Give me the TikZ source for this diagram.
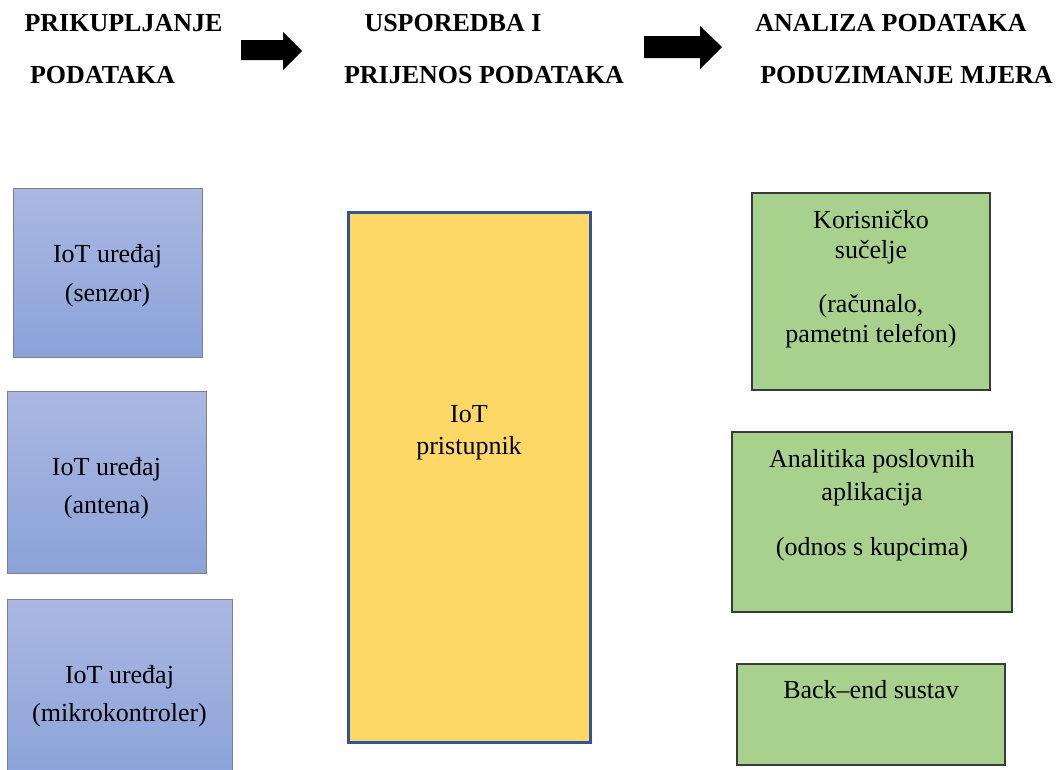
\documentclass[tikz,border=0pt]{standalone}
\usepackage{fontspec}
\setmainfont{Liberation Serif}
\definecolor{bluetop}{RGB}{170,184,226}
\definecolor{bluebot}{RGB}{139,162,217}
\definecolor{blueedge}{RGB}{128,128,128}
\definecolor{yellowfill}{RGB}{253,216,102}
\definecolor{yellowedge}{RGB}{47,85,151}
\definecolor{greenfill}{RGB}{169,209,142}
\definecolor{greenedge}{RGB}{58,58,58}
\tikzset{
  head/.style={font=\fontsize{26}{31}\bfseries\selectfont, anchor=base, inner sep=0pt},
  txt/.style={font=\fontsize{26}{31}\selectfont, anchor=base, inner sep=0pt},
  bluebox/.style={draw=blueedge, line width=0.8pt, top color=bluetop, bottom color=bluebot},
  yellowbox/.style={draw=yellowedge, line width=3pt, fill=yellowfill},
  greenbox/.style={draw=greenedge, line width=1.2pt, fill=greenfill},
  blockarrow/.style={fill=black}
}
\begin{document}
\begin{tikzpicture}[x=1pt,y=-1pt]
\useasboundingbox (0,0) rectangle (1059,769);
\begin{scope}
\clip (0,0) rectangle (1059,769);
% headers
\node[head] (h1a) at (123.5,31) {PRIKUPLJANJE};
\node[head] (h1b) at (102.5,83) {PODATAKA};
\node[head] (h2a) at (453,31) {USPOREDBA I};
\node[head] (h2b) at (484,83) {PRIJENOS PODATAKA};
\node[head] (h3a) at (891,31) {ANALIZA PODATAKA};
\node[head] (h3b) at (906.5,83) {PODUZIMANJE MJERA};
% block arrows
\fill[blockarrow] (241,40) -- (283,40) -- (283,32) -- (302,51) -- (283,70) -- (283,60) -- (241,60) -- cycle;
\fill[blockarrow] (644,36) -- (700,36) -- (700,26) -- (722,47) -- (700,69) -- (700,58) -- (644,58) -- cycle;
% blue boxes
\path[bluebox] (13,188) rectangle (202,357);
\coordinate (blue1) at (107.5,272);
\node[txt] (b1a) at (107.5,262) {IoT uređaj};
\node[txt] (b1b) at (107.5,301) {(senzor)};
\path[bluebox] (7,391) rectangle (206,573);
\node[txt] (b2a) at (106.5,475) {IoT uređaj};
\node[txt] (b2b) at (106.5,513) {(antena)};
\path[bluebox] (7,599) rectangle (232,780);
\node[txt] (b3a) at (119.5,683) {IoT uređaj};
\node[txt] (b3b) at (119.5,721) {(mikrokontroler)};
% yellow gateway
\path[yellowbox] (348,212) rectangle (590,742);
\node[txt] (ya) at (469,422) {IoT};
\node[txt] (yb) at (469,454) {pristupnik};
% green boxes
\path[greenbox] (752,193) rectangle (990,390);
\node[txt] (g1a) at (871,228) {Korisničko};
\node[txt] (g1b) at (871,258) {sučelje};
\node[txt] (g1c) at (871,312) {(računalo,};
\node[txt] (g1d) at (871,342) {pametni telefon)};
\path[greenbox] (732,432) rectangle (1012,612);
\node[txt] (g2a) at (872,467) {Analitika poslovnih};
\node[txt] (g2b) at (872,500) {aplikacija};
\node[txt] (g2c) at (872,555) {(odnos s kupcima)};
\path[greenbox] (737,664) rectangle (1005,765);
\node[txt] (g3a) at (871,698) {Back–end sustav};
\end{scope}
\end{tikzpicture}
\end{document}
